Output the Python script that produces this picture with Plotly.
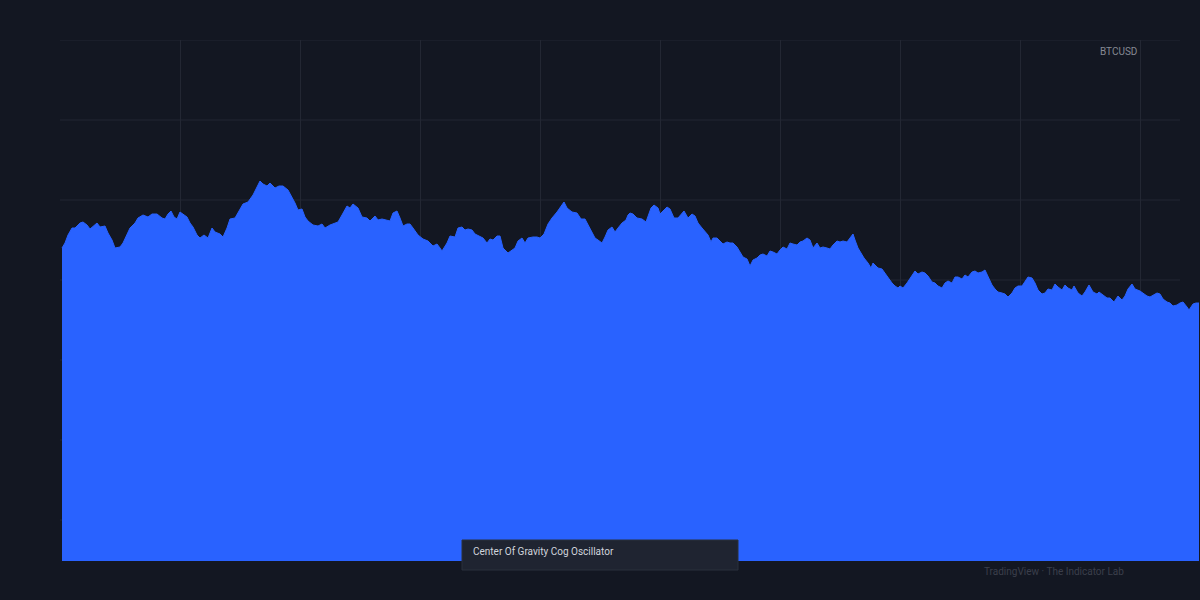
import plotly.graph_objects as go

# Bar index (x) and Center-of-Gravity oscillator level (y)
bars = [
    0, 3, 6, 10, 13, 18, 21, 25, 28, 31,
    35, 38, 43, 46, 50, 53, 58, 61, 65, 68,
    73, 76, 81, 86, 90, 95, 100, 103, 106, 109,
    112, 115, 118, 121, 125, 128, 131, 135, 138, 142,
    146, 150, 153, 158, 161, 165, 168, 173, 176, 181,
    186, 191, 195, 198, 201, 205, 208, 213, 217, 221,
    226, 230, 233, 236, 240, 243, 246, 251, 256, 260,
    263, 268, 273, 276, 280, 282, 285, 288, 291, 296,
    300, 305, 308, 313, 316, 320, 325, 328, 331, 335,
    338, 341, 345, 348, 351, 356, 361, 366, 371, 375,
    378, 380, 385, 388, 393, 396, 400, 403, 406, 410,
    413, 418, 421, 425, 428, 431, 435, 438, 441, 446,
    450, 453, 456, 460, 463, 466, 471, 475, 478, 482,
    486, 490, 495, 498, 502, 505, 510, 515, 519, 523,
    526, 530, 533, 536, 540, 543, 546, 550, 553, 556,
    560, 564, 566, 568, 571, 575, 580, 584, 586, 589,
    592, 596, 598, 601, 605, 608, 612, 616, 620, 622,
    626, 630, 633, 636, 640, 643, 646, 649, 651, 655,
    658, 661, 665, 668, 671, 675, 678, 681, 685, 688,
    691, 695, 698, 701, 705, 708, 711, 715, 718, 721,
    725, 728, 731, 735, 738, 741, 745, 748, 751, 755,
    758, 761, 765, 768, 771, 775, 778, 781, 785, 788,
    791, 793, 796, 799, 802, 806, 809, 811, 816, 820,
    823, 826, 830, 833, 836, 838, 841, 845, 848, 851,
    853, 856, 860, 863, 866, 870, 873, 876, 880, 883,
    886, 890, 893, 896, 900, 903, 906, 910, 913, 916,
    920, 923, 926, 930, 933, 936, 940, 943, 946, 950,
    953, 956, 960, 963, 966, 970, 973, 976, 980, 983,
    986, 990, 993, 996, 1000, 1003, 1006, 1010, 1012, 1016,
    1020, 1023, 1027, 1031, 1035, 1037, 1041, 1045, 1048, 1052,
    1056, 1060, 1063, 1066, 1070, 1073, 1078, 1081, 1085, 1088,
    1091, 1095, 1098, 1101, 1105, 1108, 1111, 1115, 1118, 1121,
    1125, 1127, 1131, 1134, 1137,
]
cog = [
    313, 318, 326, 333, 333, 338, 339, 336, 332, 335,
    338, 334, 335, 328, 321, 313, 314, 318, 326, 333,
    338, 343, 346, 344, 347, 347, 343, 342, 347, 350,
    344, 342, 349, 347, 344, 338, 334, 326, 323, 326,
    323, 333, 329, 327, 324, 333, 342, 343, 348, 357,
    359, 366, 374, 380, 377, 375, 378, 373, 375, 375,
    371, 364, 358, 351, 352, 344, 340, 336, 335, 337,
    333, 336, 338, 339, 346, 350, 355, 353, 357, 353,
    344, 343, 340, 345, 341, 342, 341, 340, 348, 350,
    343, 335, 337, 337, 333, 326, 322, 320, 315, 317,
    313, 310, 318, 325, 324, 333, 334, 331, 332, 331,
    327, 325, 323, 318, 322, 321, 325, 325, 313, 308,
    311, 313, 320, 323, 318, 323, 324, 324, 323, 327,
    337, 343, 349, 353, 359, 353, 349, 348, 342, 342,
    336, 329, 323, 321, 318, 324, 331, 334, 329, 333,
    338, 341, 346, 348, 347, 343, 342, 339, 345, 353,
    356, 353, 347, 350, 354, 352, 343, 343, 348, 350,
    343, 347, 345, 338, 333, 329, 326, 319, 323, 323,
    320, 317, 319, 318, 318, 314, 309, 304, 302, 295,
    301, 303, 306, 307, 305, 310, 309, 307, 311, 314,
    312, 318, 317, 316, 319, 320, 323, 321, 313, 318,
    313, 314, 313, 312, 316, 320, 319, 320, 319, 323,
    327, 321, 313, 308, 303, 298, 293, 298, 293, 292,
    288, 283, 278, 275, 273, 275, 273, 278, 283, 288,
    290, 287, 289, 288, 285, 279, 278, 275, 273, 278,
    280, 278, 284, 284, 282, 286, 284, 289, 290, 288,
    289, 291, 284, 276, 272, 269, 268, 267, 264, 268,
    273, 275, 275, 279, 284, 283, 278, 271, 267, 268,
    272, 271, 277, 274, 271, 276, 273, 271, 275, 268,
    265, 269, 276, 269, 267, 269, 266, 263, 263, 259,
    265, 261, 265, 272, 277, 272, 270, 268, 265, 264,
    266, 268, 267, 262, 259, 258, 255, 256, 258, 259,
    254, 251, 257, 258, 258,
]

symbol = "BTCUSD"
indicator = "Center Of Gravity Cog Oscillator"
credit = "TradingView · The Indicator Lab"

BG = "#131722"
GRID = "#232733"
BLUE = "#2962ff"

x_range = [-2, 1138]
y_range = [0, 521]
h_grid = [521, 441, 361, 281, 201, 121, 41]

fig = go.Figure()
fig.add_trace(go.Scatter(
    x=bars, y=cog, mode="lines", fill="tozeroy",
    fillcolor=BLUE, line=dict(color=BLUE, width=1),
    hoverinfo="skip", showlegend=False,
))

shapes = []
for v in h_grid:
    shapes.append(dict(type="line", xref="paper", yref="y", x0=0, x1=(1180 - 60) / 1140,
                       y0=v, y1=v, line=dict(color=GRID, width=1), layer="below"))
# indicator label box
shapes.append(dict(type="rect", xref="paper", yref="paper",
                   x0=(462 - 60) / 1140, x1=(738 - 60) / 1140,
                   y0=(561 - 570) / 521, y1=(561 - 540) / 521,
                   fillcolor="#1f2431", line=dict(color="#2b303c", width=1), layer="above"))

fig.update_layout(
    width=1200, height=600,
    margin=dict(l=60, r=0, t=40, b=39),
    paper_bgcolor=BG, plot_bgcolor=BG,
    showlegend=False,
    shapes=shapes,
    xaxis=dict(range=x_range, showgrid=True, gridcolor=GRID, gridwidth=1,
               tick0=-2, dtick=120, showticklabels=False, zeroline=False,
               showline=False, ticks=""),
    yaxis=dict(range=y_range, showgrid=False, showticklabels=False,
               zeroline=False, showline=False, ticks=""),
    annotations=[
        dict(text=symbol, xref="paper", yref="paper",
             x=(1139 - 60) / 1140, y=(561 - 51) / 521, xanchor="right", yanchor="middle",
             showarrow=False, font=dict(family="Roboto", size=10, color="#868993")),
        dict(text=indicator, xref="paper", yref="paper",
             x=(471 - 60) / 1140, y=(561 - 551) / 521, xanchor="left", yanchor="middle",
             showarrow=False, font=dict(family="Roboto", size=10, color="#d1d4dc")),
        dict(text=credit, xref="paper", yref="paper",
             x=(1126 - 60) / 1140, y=(561 - 571) / 521, xanchor="right", yanchor="middle",
             showarrow=False, font=dict(family="Roboto", size=10, color="#3b3f4b")),
    ],
)

fig.write_html("out.html")
